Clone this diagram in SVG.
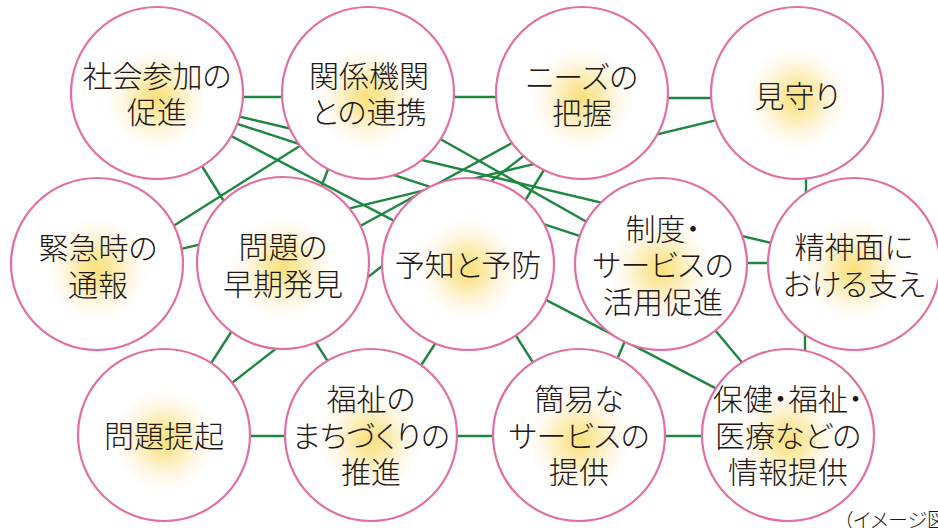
<svg xmlns="http://www.w3.org/2000/svg" width="938" height="528" viewBox="0 0 938 528">
<defs>
<radialGradient id="glow" cx="0.5" cy="0.53" r="0.5">
<stop offset="0" stop-color="#f9e07a"/>
<stop offset="0.18" stop-color="#fbe9a3"/>
<stop offset="0.42" stop-color="#fff8e8"/>
<stop offset="0.6" stop-color="#ffffff"/>
<stop offset="1" stop-color="#ffffff"/>
</radialGradient>
<style>
.n{fill:url(#glow);stroke:#e36ea2;stroke-width:2.2}
.t{font-family:"Noto Sans CJK JP","Noto Sans",sans-serif;font-size:30px;font-weight:300;fill:#231815;text-anchor:middle;dominant-baseline:central;font-feature-settings:"palt"}
.c line{stroke:#1e8640;stroke-width:2.4;stroke-linecap:butt}
.note{font-family:"Noto Sans CJK JP","Noto Sans",sans-serif;font-size:20px;font-weight:300;fill:#231815;font-feature-settings:"palt"}
</style>
</defs>
<rect width="938" height="528" fill="#ffffff"/>
<g id="connectors" class="c">
<line x1="200" y1="97" x2="330" y2="97"/>
<line x1="420" y1="97" x2="530" y2="97"/>
<line x1="630" y1="98" x2="750" y2="98"/>
<line x1="140" y1="258.8" x2="760" y2="109.7"/>
<line x1="190" y1="104.9" x2="820" y2="254.6"/>
<line x1="190" y1="108.3" x2="650" y2="258.9"/>
<line x1="190" y1="114.6" x2="760" y2="411.4"/>
<line x1="400" y1="116.2" x2="640" y2="252"/>
<line x1="340" y1="120.4" x2="130" y2="253.5"/>
<line x1="180" y1="131" x2="250" y2="243"/>
<line x1="342" y1="133" x2="307" y2="224"/>
<line x1="320" y1="248" x2="550" y2="122.2"/>
<line x1="200" y1="407.8" x2="560" y2="127.6"/>
<line x1="560" y1="144" x2="510" y2="225"/>
<line x1="806" y1="150" x2="806" y2="220"/>
<line x1="720" y1="263" x2="800" y2="263"/>
<line x1="805" y1="300" x2="805" y2="390"/>
<line x1="700" y1="312" x2="760" y2="384"/>
<line x1="640" y1="306" x2="600" y2="399"/>
<line x1="490" y1="295" x2="555" y2="397"/>
<line x1="455" y1="313" x2="400" y2="398"/>
<line x1="300" y1="318" x2="345" y2="388"/>
<line x1="255" y1="295" x2="190" y2="396"/>
<line x1="210" y1="436" x2="320" y2="436"/>
<line x1="420" y1="436" x2="530" y2="436"/>
<line x1="630" y1="436" x2="740" y2="436"/>
</g>
<g id="node-shakai">
<circle class="n" cx="157" cy="93" r="86"/>
<text class="t"><tspan x="157" y="74">社会参加の</tspan><tspan x="157" y="110">促進</tspan></text>
</g>
<g id="node-kankei">
<circle class="n" cx="368" cy="93" r="86"/>
<text class="t"><tspan x="369" y="74">関係機関</tspan><tspan x="369" y="110">との連携</tspan></text>
</g>
<g id="node-needs">
<circle class="n" cx="582" cy="93" r="86"/>
<text class="t"><tspan x="582" y="75">ニーズの</tspan><tspan x="582" y="111">把握</tspan></text>
</g>
<g id="node-mimamori">
<circle class="n" cx="797" cy="93" r="86"/>
<text class="t"><tspan x="797" y="94">見守り</tspan></text>
</g>
<g id="node-kinkyu">
<circle class="n" cx="97" cy="264" r="86"/>
<text class="t"><tspan x="98" y="246">緊急時の</tspan><tspan x="98" y="283">通報</tspan></text>
</g>
<g id="node-soki">
<circle class="n" cx="283" cy="263" r="86"/>
<text class="t"><tspan x="283" y="245">問題の</tspan><tspan x="283" y="282">早期発見</tspan></text>
</g>
<g id="node-yochi">
<circle class="n" cx="468" cy="264" r="86"/>
<text class="t"><tspan x="468" y="263">予知と予防</tspan></text>
</g>
<g id="node-seido">
<circle class="n" cx="661" cy="264" r="86"/>
<text class="t"><tspan x="663" y="227">制度・</tspan><tspan x="663" y="263">サービスの</tspan><tspan x="663" y="300">活用促進</tspan></text>
</g>
<g id="node-seishin">
<circle class="n" cx="854" cy="264" r="86"/>
<text class="t"><tspan x="854" y="245">精神面に</tspan><tspan x="854" y="282">おける支え</tspan></text>
</g>
<g id="node-teiki">
<circle class="n" cx="164" cy="435" r="86"/>
<text class="t"><tspan x="164" y="434">問題提起</tspan></text>
</g>
<g id="node-machi">
<circle class="n" cx="371" cy="435" r="86"/>
<text class="t"><tspan x="371" y="397">福祉の</tspan><tspan x="371" y="434">まちづくりの</tspan><tspan x="371" y="470">推進</tspan></text>
</g>
<g id="node-kani">
<circle class="n" cx="579" cy="435" r="86"/>
<text class="t"><tspan x="579" y="397">簡易な</tspan><tspan x="579" y="434">サービスの</tspan><tspan x="579" y="470">提供</tspan></text>
</g>
<g id="node-joho">
<circle class="n" cx="788" cy="435" r="86"/>
<text class="t"><tspan x="788" y="397">保健・福祉・</tspan><tspan x="788" y="434">医療などの</tspan><tspan x="788" y="470">情報提供</tspan></text>
</g>
<text class="note" x="843" y="528">（イメージ図）</text>
</svg>
